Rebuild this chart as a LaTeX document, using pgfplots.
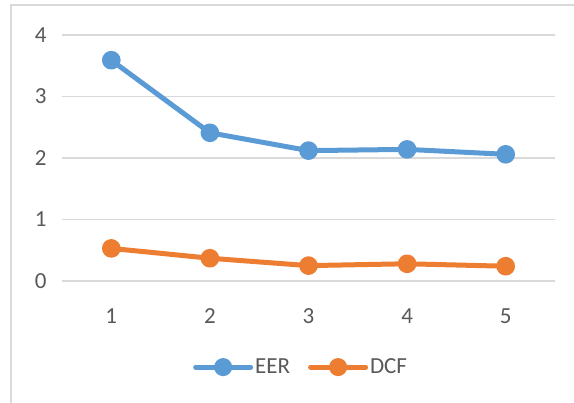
\documentclass[border=0pt]{standalone}
\usepackage{pgfplots}
\pgfplotsset{compat=1.18}
\usepackage{fontspec}
\setmainfont{Carlito}
\definecolor{eer}{HTML}{5B9BD5}
\definecolor{dcf}{HTML}{ED7D31}
\definecolor{gridc}{HTML}{D9D9D9}
\definecolor{txt}{HTML}{595959}
\begin{document}
\begin{tikzpicture}[x=1pt,y=1pt]
\useasboundingbox (0,0) rectangle (574,403);
\draw[gridc, line width=1.5pt] (11,-5) rectangle (580,398);
\begin{axis}[
  at={(62pt,122pt)}, anchor=south west,
  scale only axis, width=493pt, height=246pt,
  xmin=0.5, xmax=5.5, ymin=0, ymax=4,
  xtick={1,2,3,4,5}, ytick={0,1,2,3,4},
  axis line style={draw=none},
  major tick length=0pt,
  ymajorgrids, grid style={gridc, line width=1.5pt},
  tick label style={font=\fontsize{23}{27}\selectfont, text=txt},
  /pgf/number format/assume math mode=true,
  yticklabel style={xshift=-12pt},
  xticklabel style={yshift=-24pt},
  clip=false,
  legend style={draw=none, at={(0.485,-0.35)}, anchor=center, legend columns=2,
    font=\fontsize{23}{27}\selectfont, text=txt, inner xsep=0pt,
    /tikz/every odd column/.append style={column sep=0pt},
    /tikz/every even column/.append style={column sep=16pt}},
  legend image code/.code={
    \draw[#1, line width=5pt, line cap=round] (0pt,0pt) -- (55pt,0pt);
    \fill[#1] (27.5pt,0pt) circle (6.5pt);
  },
]
\addplot[eer, line width=5pt, line cap=round, line join=round, mark=*, mark size=6.8pt, mark options={solid, fill=eer, draw=eer}] coordinates {(1,3.59) (2,2.41) (3,2.12) (4,2.14) (5,2.06)};
\addlegendentry{EER}
\addplot[dcf, line width=5pt, line cap=round, line join=round, mark=*, mark size=6.8pt, mark options={solid, fill=dcf, draw=dcf}] coordinates {(1,0.53) (2,0.37) (3,0.25) (4,0.28) (5,0.24)};
\addlegendentry{DCF}
\end{axis}
\end{tikzpicture}
\end{document}
